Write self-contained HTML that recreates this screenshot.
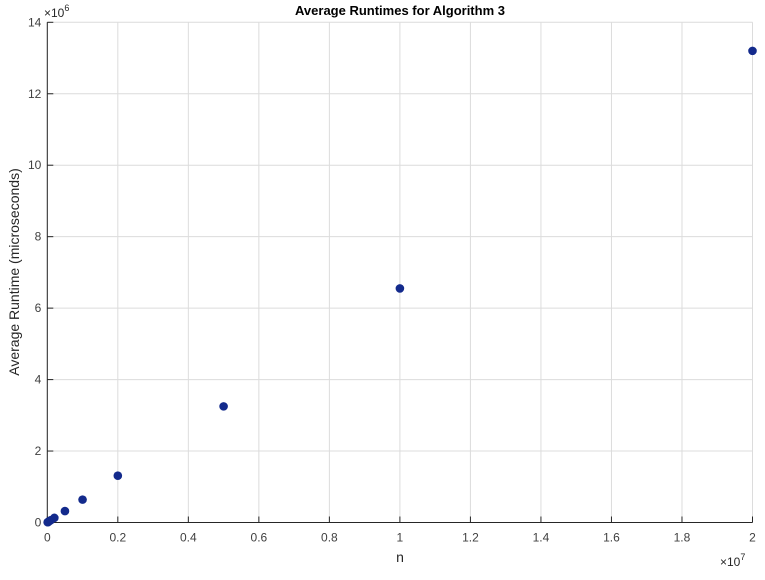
<!DOCTYPE html>
<html><head><meta charset="utf-8"><style>
body{margin:0;background:#fff;font-family:"Liberation Sans",sans-serif}
svg text{font-family:"Liberation Sans",sans-serif}
</style></head><body>
<svg id="c" width="765" height="575" xmlns="http://www.w3.org/2000/svg">
<rect width="765" height="575" fill="#fff"/>
<g id="grid"></g><g id="axes"></g><g id="pts"></g>
<text x="400" y="15" text-anchor="middle" font-size="13" font-weight="bold" fill="#000">Average Runtimes for Algorithm 3</text>
<text x="400" y="562" text-anchor="middle" font-size="14" fill="#262626">n</text>
<text transform="translate(19,272) rotate(-90)" text-anchor="middle" font-size="14" fill="#262626">Average Runtime (microseconds)</text>
<text x="44" y="17" font-size="12" fill="#262626">×10<tspan dy="-6" font-size="9">6</tspan></text>
<text x="720" y="566" font-size="12" fill="#262626">×10<tspan dy="-6" font-size="9">7</tspan></text>
</svg>
<script>
const xVals=[0.001,0.002,0.005,0.01,0.02,0.05,0.1,0.2,0.5,1,2];
const yVals=[0.007,0.013,0.033,0.066,0.13,0.32,0.64,1.31,3.25,6.55,13.2];
const xTicks=[0,0.2,0.4,0.6,0.8,1,1.2,1.4,1.6,1.8,2];
const yTicks=[0,2,4,6,8,10,12,14];
const L=47.3,R=752.5,T=22.3,B=522.5,NS="http://www.w3.org/2000/svg";
const sx=v=>L+v/2*(R-L), sy=v=>B-v/14*(B-T);
function mk(t,a,p){const e=document.createElementNS(NS,t);for(const k in a)e.setAttribute(k,a[k]);p.appendChild(e);return e;}
const g=document.getElementById('grid'),ax=document.getElementById('axes'),pts=document.getElementById('pts');
xTicks.forEach(v=>{const x=sx(v);
const l=mk('line',{x1:x,x2:x,y1:T,y2:B,stroke:'#dcdcdc','stroke-width':1},g);


mk('line',{x1:x,x2:x,y1:B,y2:B-6,stroke:'#262626'},ax);
const t=mk('text',{x:x,y:B+19,'text-anchor':'middle','font-size':12,fill:'#404040'},ax);t.textContent=String(v);

});
yTicks.forEach(v=>{const y=sy(v);
const l=mk('line',{x1:L,x2:R,y1:y,y2:y,stroke:'#dcdcdc','stroke-width':1},g);


mk('line',{x1:L,x2:L+6,y1:y,y2:y,stroke:'#262626'},ax);
const t=mk('text',{x:L-6,y:y+4,'text-anchor':'end','font-size':12,fill:'#404040'},ax);t.textContent=String(v);

});
const xa=mk('line',{x1:L,x2:R,y1:B,y2:B,stroke:'#262626'},ax);


const ya=mk('line',{x1:L,x2:L,y1:T,y2:B,stroke:'#262626'},ax);


xVals.forEach((v,i)=>{const c=mk('circle',{cx:sx(v),cy:sy(yVals[i]),r:4.3,fill:'#132a8c'},pts);

});
</script>
</body></html>
